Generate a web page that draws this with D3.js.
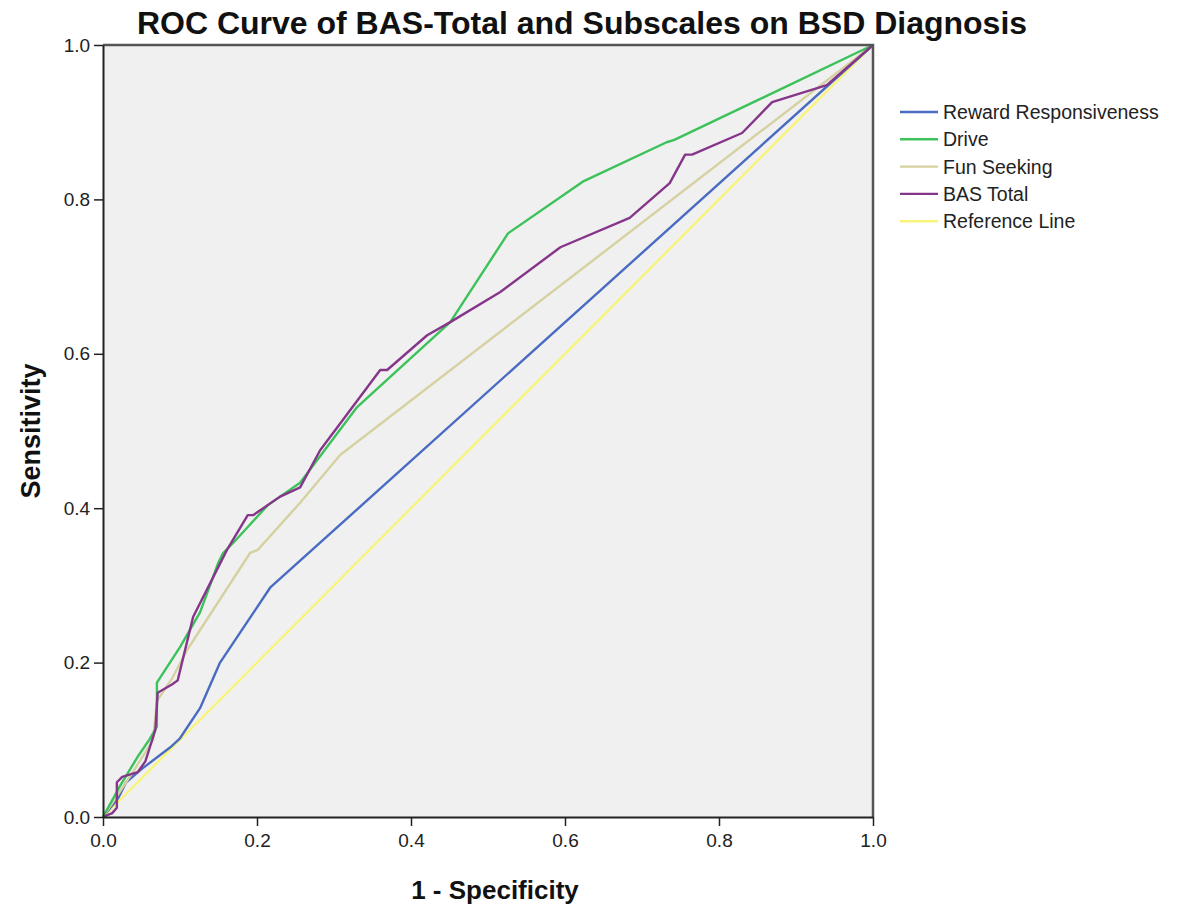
<!DOCTYPE html>
<html>
<head>
<meta charset="utf-8">
<script src="https://cdn.jsdelivr.net/npm/d3@7"></script>
<style>
  body { margin: 0; background: #fff; }
  svg { display: block; font-family: "Liberation Sans", Arial, sans-serif; }
</style>
</head>
<body>
<svg id="chart" width="1199" height="911"></svg>
<script>
// ROC points, [1 - specificity, sensitivity]
const rewardResp = [[0,0],[0.02,0.025],[0.03,0.045],[0.05,0.062],[0.087,0.09],[0.1,0.102],[0.126,0.141],[0.152,0.2],[0.217,0.297],[1,1]]
const drive = [[0,0],[0.022,0.04],[0.045,0.078],[0.06,0.1],[0.07,0.117],[0.07,0.174],[0.1,0.22],[0.126,0.265],[0.15,0.33],[0.156,0.342],[0.169,0.355],[0.214,0.404],[0.256,0.433],[0.33,0.531],[0.451,0.641],[0.526,0.756],[0.623,0.823],[0.732,0.874],[0.742,0.877],[1,1]]
const funSeeking = [[0,0],[0.02,0.03],[0.04,0.06],[0.065,0.1],[0.07,0.15],[0.09,0.18],[0.109,0.216],[0.191,0.342],[0.201,0.346],[0.256,0.407],[0.308,0.469],[1,1]]
const basTotal = [[0,0],[0.012,0.005],[0.018,0.012],[0.018,0.045],[0.025,0.052],[0.045,0.058],[0.055,0.072],[0.068,0.113],[0.071,0.161],[0.09,0.172],[0.097,0.177],[0.117,0.259],[0.161,0.346],[0.188,0.391],[0.195,0.391],[0.23,0.415],[0.256,0.427],[0.282,0.475],[0.36,0.579],[0.369,0.579],[0.421,0.624],[0.451,0.641],[0.516,0.68],[0.594,0.738],[0.684,0.776],[0.736,0.821],[0.756,0.858],[0.765,0.858],[0.83,0.886],[0.869,0.926],[0.94,0.948],[1,1]]
const referenceLine = [[0,0],[1,1]]

const seriesNames = ["Reward Responsiveness", "Drive", "Fun Seeking", "BAS Total", "Reference Line"]
const seriesColors = ["#4a6bc2", "#3cc25a", "#d6d1a0", "#86368a", "#f8f47a"]
const tickValues = [0, 0.2, 0.4, 0.6, 0.8, 1.0]

const svg = d3.select("#chart")

const plotL = 103, plotT = 45, plotR = 873, plotB = 817

const x = d3.scaleLinear().domain([0, 1]).range([plotL, plotR])
const y = d3.scaleLinear().domain([0, 1]).range([plotB, plotT])

// plot background
svg.append("rect")
  .attr("x", plotL).attr("y", plotT)
  .attr("width", plotR - plotL).attr("height", plotB - plotT)
  .attr("fill", "#f0f0f0")

// curves
const line = d3.line().x(d => x(d[0])).y(d => y(d[1]))
const allSeries = [rewardResp, drive, funSeeking, basTotal, referenceLine]
// draw reference first so it stays under the others
const drawOrder = [4, 0, 2, 1, 3]
svg.append("g").selectAll("path")
  .data(drawOrder)
  .enter()
  .append("path")
  .attr("d", i => line(allSeries[i]))
  .attr("fill", "none")
  .attr("stroke", i => seriesColors[i])
  .attr("stroke-width", 2.4)
  .attr("stroke-linejoin", "round")

// frame top/right
svg.append("path")
  .attr("d", `M${plotL},${plotT}H${plotR}V${plotB}`)
  .attr("fill", "none")
  .attr("stroke", "#555")
  .attr("stroke-width", 2.5)

// axes
const xAxis = d3.axisBottom(x).tickValues(tickValues).tickFormat(d3.format(".1f")).tickSize(9).tickSizeOuter(0)
const yAxis = d3.axisLeft(y).tickValues(tickValues).tickFormat(d3.format(".1f")).tickSize(9).tickSizeOuter(0)

const gx = svg.append("g").attr("transform", `translate(0,${plotB})`).call(xAxis)
const gy = svg.append("g").attr("transform", `translate(${plotL},0)`).call(yAxis)

;[gx, gy].forEach(g => {
  g.select(".domain").attr("stroke", "#222").attr("stroke-width", 2)
  g.selectAll(".tick line").attr("stroke", "#222").attr("stroke-width", 1.5)
  g.selectAll(".tick text").attr("font-size", "19px").attr("fill", "#222")
    .attr("font-family", "'Liberation Sans', Arial, sans-serif")
})
gx.selectAll(".tick text").attr("dy", "0.95em")
gy.selectAll(".tick text").attr("dx", "-0.05em")

// title
svg.append("text")
  .attr("x", 582).attr("y", 34)
  .attr("text-anchor", "middle")
  .attr("font-size", "32px")
  .attr("font-weight", "bold")
  .attr("fill", "#111")
  .text("ROC Curve of BAS-Total and Subscales on BSD Diagnosis")

// axis titles
svg.append("text")
  .attr("x", (plotL + plotR) / 2 + 7).attr("y", 899)
  .attr("text-anchor", "middle")
  .attr("font-size", "26px")
  .attr("font-weight", "bold")
  .attr("fill", "#111")
  .text("1 - Specificity")

svg.append("text")
  .attr("transform", `translate(40,${(plotT + plotB) / 2}) rotate(-90)`)
  .attr("text-anchor", "middle")
  .attr("font-size", "27px")
  .attr("font-weight", "bold")
  .attr("fill", "#111")
  .text("Sensitivity")

// legend
const legend = svg.append("g").attr("transform", "translate(900,112)")
const rows = legend.selectAll("g")
  .data(seriesNames)
  .enter()
  .append("g")
  .attr("transform", (d, i) => `translate(0,${i * 27.3})`)
rows.append("line")
  .attr("x1", 0).attr("x2", 38)
  .attr("stroke", (d, i) => seriesColors[i])
  .attr("stroke-width", 2.4)
rows.append("text")
  .attr("x", 43).attr("y", 0).attr("dy", "0.36em")
  .attr("font-size", "19.5px")
  .attr("fill", "#222")
  .text(d => d)
</script>
</body>
</html>
